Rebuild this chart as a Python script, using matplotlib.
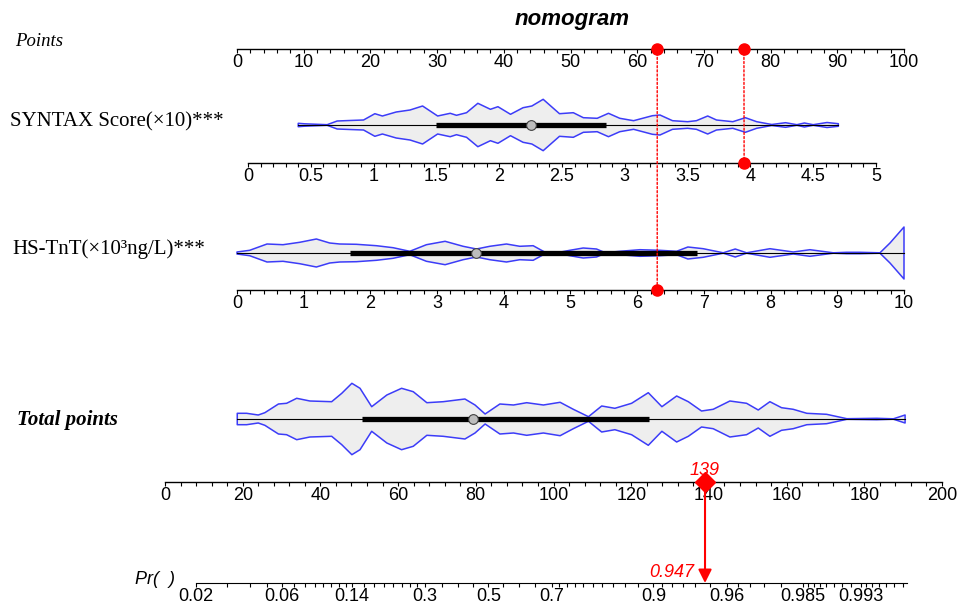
import numpy as np
import matplotlib
matplotlib.use("Agg")
import matplotlib.pyplot as plt
from matplotlib.patches import ConnectionPatch
from matplotlib.ticker import FixedLocator, FixedFormatter

W, H, DPI = 960, 605, 100

# ---------------- data ----------------
points_ticks = list(range(0, 101, 10))
syntax_ticks = [0, 0.5, 1, 1.5, 2, 2.5, 3, 3.5, 4, 4.5, 5]
syntax_tick_labels = ['0', '0.5', '1', '1.5', '2', '2.5', '3', '3.5', '4', '4.5', '5']
tnt_ticks = list(range(0, 11))
total_ticks = list(range(0, 201, 20))
pr_ticks = [0.02, 0.06, 0.14, 0.3, 0.5, 0.7, 0.9, 0.96, 0.985, 0.993]
pr_tick_labels = ['0.02', '0.06', '0.14', '0.3', '0.5', '0.7', '0.9', '0.96', '0.985', '0.993']

# SYNTAX Score(x10) distribution outline (value, half-width)
syntax_x = [0.40, 0.45, 0.63, 0.71, 0.81, 0.92, 1.01, 1.07, 1.18, 1.29, 1.39, 1.51, 1.61,
            1.66, 1.74, 1.83, 1.93, 1.99, 2.09, 2.19, 2.26, 2.35, 2.48, 2.59, 2.67, 2.78,
            2.87, 2.96, 3.07, 3.22, 3.28, 3.38, 3.50, 3.57, 3.66, 3.73, 3.86, 3.96, 4.05,
            4.17, 4.28, 4.37, 4.43, 4.50, 4.61, 4.70]
syntax_w = [1.7, 1.2, 0.3, 4.0, 4.5, 5.0, 11.3, 9.0, 13.0, 15.0, 19.0, 9.0, 11.7,
            9.7, 12.3, 21.7, 15.7, 18.3, 10.7, 17.3, 19.0, 25.7, 11.3, 12.3, 7.3, 6.7,
            11.7, 6.7, 4.3, 9.3, 10.0, 4.3, 3.3, 4.3, 9.0, 5.0, 3.3, 7.3, 3.3,
            0.5, 2.3, 0.3, 2.0, 0.3, 2.5, 1.3]
syntax_range = [0.40, 4.70]
syntax_iqr = [1.50, 2.85]
syntax_median = 2.25

# HS-TnT distribution outline
tnt_x = [0.00, 0.19, 0.45, 0.69, 0.94, 1.19, 1.39, 1.54, 1.79, 2.09, 2.34, 2.59, 2.84,
         3.12, 3.39, 3.59, 3.79, 4.04, 4.24, 4.44, 4.62, 4.79, 4.99, 5.19, 5.39, 5.52,
         5.74, 6.04, 6.34, 6.59, 6.76, 6.99, 7.29, 7.47, 7.64, 7.99, 8.34, 8.59, 8.94,
         9.14, 9.34, 9.64, 9.79, 10.00]
tnt_w = [1.0, 2.7, 9.0, 8.3, 10.7, 14.0, 10.0, 9.0, 8.7, 7.3, 5.3, 1.7, 8.3,
         11.7, 6.7, 4.0, 6.7, 9.0, 6.7, 7.3, 0.7, 0.2, 2.7, 5.0, 4.0, 0.3,
         1.7, 3.3, 2.7, 1.7, 6.0, 4.3, 0.2, 4.0, 0.2, 4.3, 1.0, 3.3, 0.2,
         0.7, 0.7, 0.2, 10.0, 26.0]
tnt_range = [0.0, 10.0]
tnt_iqr = [1.70, 6.89]
tnt_median = 3.59

# Total points distribution outline
total_x = [18.6, 21.0, 24.0, 25.7, 29.2, 31.3, 33.9, 37.3, 42.9, 45.5, 48.1, 50.2, 53.2,
           57.1, 60.9, 63.9, 67.4, 71.6, 77.2, 79.8, 82.4, 86.2, 89.7, 93.1, 97.4, 101.7,
           105.1, 109.0, 112.4, 115.8, 120.1, 124.4, 127.9, 131.7, 134.7, 138.1, 141.1,
           145.4, 149.7, 152.7, 155.7, 158.7, 161.7, 165.2, 170.3, 175.5, 183.2, 187.5, 190.5]
total_w = [5.7, 5.7, 4.0, 6.3, 15.0, 15.7, 20.7, 18.0, 17.3, 25.7, 35.7, 30.7, 12.3,
           24.0, 30.7, 27.3, 16.3, 17.3, 20.0, 14.0, 5.0, 15.0, 14.0, 16.3, 14.0, 16.7,
           9.7, 2.3, 13.0, 10.7, 15.7, 26.3, 12.3, 23.0, 17.3, 8.0, 9.7,
           18.0, 15.7, 9.0, 17.3, 11.3, 9.7, 5.7, 4.7, 0.3, 0.7, 0.2, 4.0]
total_range = [18.6, 190.5]
total_iqr = [50.8, 124.7]
total_median = 79.2

# the worked example
syntax_value, syntax_points = 3.95, 76
tnt_value, tnt_points = 6.3, 63
total_score = 139
prob = 0.947
lp_slope = 0.0517

# ---------------- styling ----------------
TICK_FONT = 'Liberation Sans'
SERIF = 'Liberation Serif'
BLUE = '#3c3cf8'
FILL = '#eeeeee'

fig = plt.figure(figsize=(W / DPI, H / DPI), dpi=DPI)


def row_axes(axis_y, top_y, v0, px0, v1, px1, bounds):
    scale = (px1 - px0) / (v1 - v0)
    ax = fig.add_axes([0, 1 - axis_y / H, 1, (axis_y - top_y) / H])
    ax.set_xlim(v0 - px0 / scale, v0 + (W - px0) / scale)
    ax.set_ylim(0, axis_y - top_y)
    ax.patch.set_visible(False)
    for s in ['top', 'left', 'right']:
        ax.spines[s].set_visible(False)
    ax.spines['bottom'].set_bounds(*bounds)
    ax.spines['bottom'].set_linewidth(1.0)
    ax.yaxis.set_visible(False)
    ax.tick_params(axis='x', which='both', direction='out', length=3, width=0.8,
                   pad=0.5, labelsize=13)
    return ax


def style_ticks(ax, major, labels, minor):
    ax.xaxis.set_major_locator(FixedLocator(major))
    ax.xaxis.set_major_formatter(FixedFormatter(labels))
    ax.xaxis.set_minor_locator(FixedLocator(minor))
    for lab in ax.get_xticklabels():
        lab.set_fontfamily(TICK_FONT)
        lab.set_fontsize(13)


def violin(ax, c, xs, ws, rng, iqr, med):
    xs = np.asarray(xs)
    ws = np.asarray(ws)
    ax.fill(np.r_[xs, xs[::-1]], np.r_[c + ws, (c - ws)[::-1]],
            facecolor=FILL, edgecolor=BLUE, lw=1.1, joinstyle='round', zorder=1)
    ax.plot(rng, [c, c], color='black', lw=0.8, zorder=2)
    ax.plot(iqr, [c, c], color='black', lw=3.8, solid_capstyle='butt', zorder=3)
    ax.plot([med], [c], 'o', ms=7, mfc='#bdbdbd', mec='#404040', mew=0.8, zorder=4)


# Points axis
ax_pts = row_axes(49, 40, 0, 237, 100, 904, (0, 100))
style_ticks(ax_pts, points_ticks, [str(t) for t in points_ticks], np.arange(0, 100.1, 2))

# SYNTAX row
ax_syn = row_axes(163, 90, 0, 248, 5, 876, (0, 5))
style_ticks(ax_syn, syntax_ticks, syntax_tick_labels, np.arange(0, 5.001, 0.1))
violin(ax_syn, 163 - 125, syntax_x, syntax_w, syntax_range, syntax_iqr, syntax_median)

# HS-TnT row
ax_tnt = row_axes(290, 215, 0, 237, 10, 904, (0, 10))
style_ticks(ax_tnt, tnt_ticks, [str(t) for t in tnt_ticks], np.arange(0, 10.001, 0.2))
violin(ax_tnt, 290 - 253, tnt_x, tnt_w, tnt_range, tnt_iqr, tnt_median)

# Total points row
ax_tot = row_axes(482, 370, 0, 165, 200, 942, (0, 200))
style_ticks(ax_tot, total_ticks, [str(t) for t in total_ticks], np.arange(0, 200.1, 4))
violin(ax_tot, 482 - 419, total_x, total_w, total_range, total_iqr, total_median)

# Probability axis (logistic transform of total points)
logit = lambda p: np.log(p / (1 - p))
lp0 = logit(prob)


def p_to_pts(p):
    p = np.clip(np.asarray(p, dtype=float), 1e-9, 1 - 1e-9)
    return total_score + (logit(p) - lp0) / lp_slope


def pts_to_p(t):
    t = np.asarray(t, dtype=float)
    return 1 / (1 + np.exp(-(lp0 + lp_slope * (t - total_score))))


ax_pr = fig.add_axes([0, 1 - 583 / H, 1, 10 / H])
ax_pr.set_xscale('function', functions=(p_to_pts, pts_to_p))
t_lo, t_hi = ax_tot.get_xlim()
ax_pr.set_xlim(float(pts_to_p(t_lo)), float(pts_to_p(t_hi)))
ax_pr.set_ylim(0, 10)
ax_pr.patch.set_visible(False)
for s in ['top', 'left', 'right']:
    ax_pr.spines[s].set_visible(False)
ax_pr.spines['bottom'].set_bounds(0.02, float(pts_to_p(191)))
ax_pr.yaxis.set_visible(False)
ax_pr.tick_params(axis='x', which='both', direction='out', length=3, width=0.8,
                  pad=0.5, labelsize=13)
pr_minor = np.r_[np.arange(0.02, 0.14, 0.01), np.arange(0.16, 0.30, 0.02),
                 np.arange(0.35, 0.50, 0.05), np.arange(0.55, 0.70, 0.05),
                 np.arange(0.72, 0.90, 0.02), np.arange(0.91, 0.96, 0.01),
                 np.arange(0.965, 0.985, 0.005), np.arange(0.986, 0.993, 0.001),
                 np.arange(0.9935, 0.9961, 0.0005)]
style_ticks(ax_pr, pr_ticks, pr_tick_labels, pr_minor)

# ---------------- worked example (red) ----------------
ax_pts.plot([tnt_points, syntax_points], [0, 0], 'o', color='red', ms=8, clip_on=False, zorder=6)
ax_syn.plot([syntax_value], [0], 'o', color='red', ms=8, clip_on=False, zorder=6)
ax_tnt.plot([tnt_value], [0], 'o', color='red', ms=8, clip_on=False, zorder=6)

for (xa, axa, xb, axb) in [(syntax_points, ax_pts, syntax_value, ax_syn),
                           (tnt_points, ax_pts, tnt_value, ax_tnt)]:
    con = ConnectionPatch(xyA=(xa, 0), coordsA=axa.transData, xyB=(xb, 0), coordsB=axb.transData,
                          color='red', lw=1.0, linestyle=(0, (1.5, 1.5)), zorder=5)
    fig.add_artist(con)

ax_tot.plot([total_score], [0], 'D', color='red', ms=10, clip_on=False, zorder=6)
ax_tot.annotate(str(total_score), (total_score, 0), xytext=(0, 2), textcoords='offset points',
                ha='center', va='bottom', color='red', fontsize=13, style='italic',
                family=TICK_FONT, zorder=7)

arrow = ConnectionPatch(xyA=(total_score, 0), coordsA=ax_tot.transData,
                        xyB=(prob, 0), coordsB=ax_pr.transData,
                        arrowstyle='-|>', mutation_scale=20, color='red', lw=1.5,
                        shrinkA=0, shrinkB=0, zorder=6)
fig.add_artist(arrow)
ax_pr.annotate(f'{prob:.3f}', (prob, 0), xytext=(-8, 1.5), textcoords='offset points',
               ha='right', va='bottom', color='red', fontsize=13, style='italic',
               family=TICK_FONT)

# ---------------- labels ----------------
fig.text(572 / W, 1 - 19 / H, 'nomogram', ha='center', va='center', fontsize=16,
         weight='bold', style='italic', family=TICK_FONT)
fig.text(15 / W, 1 - 42 / H, 'Points', ha='left', va='center', fontsize=13.5,
         style='italic', family=SERIF)
fig.text(10 / W, 1 - 122 / H, 'SYNTAX Score(×10)***', ha='left', va='center', fontsize=15,
         family=SERIF)
fig.text(12 / W, 1 - 249 / H, 'HS-TnT(×10³ng/L)***', ha='left', va='center', fontsize=15,
         family=SERIF)
fig.text(17 / W, 1 - 420 / H, 'Total points', ha='left', va='center', fontsize=15,
         weight='bold', style='italic', family=SERIF)
fig.text(135 / W, 1 - 579 / H, 'Pr(  )', ha='left', va='center', fontsize=13,
         style='italic', family=TICK_FONT)

fig.savefig('out.png', dpi=DPI)
